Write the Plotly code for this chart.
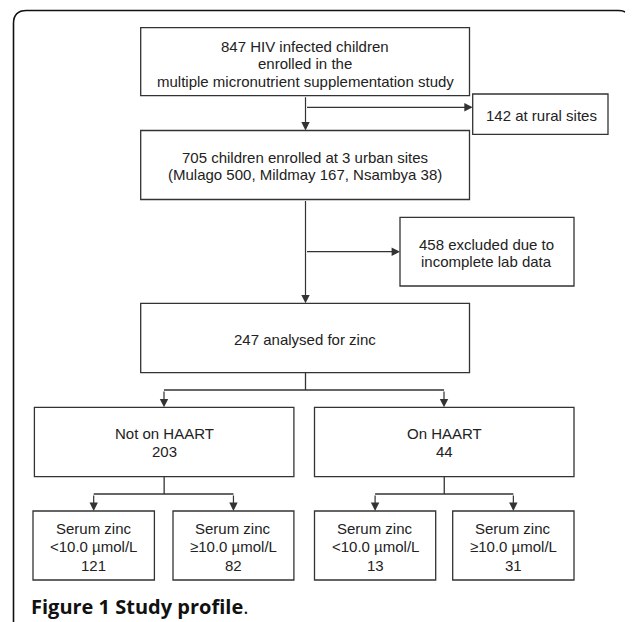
import plotly.graph_objects as go

# ---- data ----
enrolled_total = 847
rural_sites = 142
urban_total = 705
site_names = ["Mulago", "Mildmay", "Nsambya"]
site_counts = [500, 167, 38]
excluded_lab = 458
analysed = 247
haart_groups = ["Not on HAART", "On HAART"]
haart_counts = [203, 44]
zinc_labels = ["<10.0 µmol/L", "≥10.0 µmol/L"]
zinc_counts_not_haart = [121, 82]
zinc_counts_haart = [13, 31]

# ---- layout geometry (reference pixel space; page body has an 8px margin) ----
W, H = 633, 622
OFF = 8
LINE = "#333333"
TXT = "#222222"
FONT = "Liberation Sans"
FS = 15

fig = go.Figure()
shapes = []
annotations = []


def box(x0, x1, y0, y1, lines, ys, cx=None):
    shapes.append(dict(type="rect", x0=x0, x1=x1, y0=y0, y1=y1, xref="x", yref="y",
                       line=dict(color=LINE, width=1.3), fillcolor="white", layer="above"))
    cx = (x0 + x1) / 2 if cx is None else cx
    for t, y in zip(lines, ys):
        annotations.append(dict(x=cx, y=y, xref="x", yref="y", text=t, showarrow=False,
                                font=dict(family=FONT, size=FS, color=TXT),
                                xanchor="center", yanchor="middle"))


def seg(x0, y0, x1, y1):
    shapes.append(dict(type="line", x0=x0, y0=y0, x1=x1, y1=y1, xref="x", yref="y",
                       line=dict(color=LINE, width=1.3)))


def arrow(x0, y0, x1, y1):
    annotations.append(dict(x=x1, y=y1, ax=x0, ay=y0, xref="x", yref="y", axref="x", ayref="y",
                            text="", showarrow=True, arrowhead=2, arrowsize=1.4,
                            arrowwidth=1.2, arrowcolor=LINE, standoff=0))


# outer rounded frame
r = 13
fx0, fy0, fx1, fy1 = 13.5, 10.5, 631, 640
shapes.append(dict(type="path", xref="x", yref="y",
                   path=(f"M {fx0},{fy1} L {fx0},{fy0 + r} Q {fx0},{fy0} {fx0 + r},{fy0} "
                         f"L {fx1 - r},{fy0} Q {fx1},{fy0} {fx1},{fy0 + r} L {fx1},{fy1}"),
                   line=dict(color="#111111", width=1.6)))

cx = 305.5
# main column
box(140.7, 469.5, 27.7, 95.7,
    [f"{enrolled_total} HIV infected children", "enrolled in the",
     "multiple micronutrient supplementation study"], [46.7, 63.8, 81.0])
box(472.7, 608, 94, 134.3, [f"{rural_sites} at rural sites"], [115], cx=541)
box(140.7, 469.5, 130.5, 199.5,
    [f"{urban_total} children enrolled at 3 urban sites",
     "(" + ", ".join(f"{n} {c}" for n, c in zip(site_names, site_counts)) + ")"],
    [157.3, 174.7])
box(400, 574, 217.3, 286, [f"{excluded_lab} excluded due to", "incomplete lab data"],
    [244.3, 261.7], cx=486)
box(140.7, 469.5, 303.3, 372.7, [f"{analysed} analysed for zinc"], [339])

# HAART boxes
haart_x = [(34.4, 293.9), (314.5, 574)]
for (x0, x1), g, n in zip(haart_x, haart_groups, haart_counts):
    box(x0, x1, 407.3, 476.7, [g, str(n)], [433.3, 451.7])

# zinc boxes
zinc_x = [(33, 154.4), (173, 293.9), (314.5, 435.7), (452.7, 574)]
zinc_counts = zinc_counts_not_haart + zinc_counts_haart
zinc_lab = zinc_labels * 2
for (x0, x1), lab, n in zip(zinc_x, zinc_lab, zinc_counts):
    box(x0, x1, 511, 580, ["Serum zinc", lab, str(n)], [528, 546.7, 565])

# connectors
arrow(cx, 95.7, cx, 130.5)
arrow(cx, 107.3, 472.7, 107.3)
arrow(cx, 199.5, cx, 303.3)
arrow(cx, 251.7, 400, 251.7)
seg(cx, 372.7, cx, 390)
seg(164, 390, 444, 390)
arrow(164, 390, 164, 407.3)
arrow(444, 390, 444, 407.3)
for (hx0, hx1), (a, b) in zip(haart_x, [(0, 1), (2, 3)]):
    mid = (hx0 + hx1) / 2
    la = (zinc_x[a][0] + zinc_x[a][1]) / 2
    lb = (zinc_x[b][0] + zinc_x[b][1]) / 2
    seg(mid, 476.7, mid, 494)
    seg(la, 494, lb, 494)
    arrow(la, 494, la, 511)
    arrow(lb, 494, lb, 511)

# caption
annotations.append(dict(x=29, y=606, xref="x", yref="y", xanchor="left", yanchor="middle",
                        showarrow=False, text="<b>Figure 1 Study profile</b>.",
                        font=dict(family="Open Sans", size=20, color="#111111")))

fig.update_layout(
    width=W - OFF, height=H - OFF, margin=dict(l=0, r=0, t=0, b=0),
    paper_bgcolor="white", plot_bgcolor="white",
    xaxis=dict(range=[OFF, W], visible=False, fixedrange=True),
    yaxis=dict(range=[H, OFF], visible=False, fixedrange=True),
    shapes=shapes, annotations=annotations, showlegend=False,
)

fig.write_html("out.html")
